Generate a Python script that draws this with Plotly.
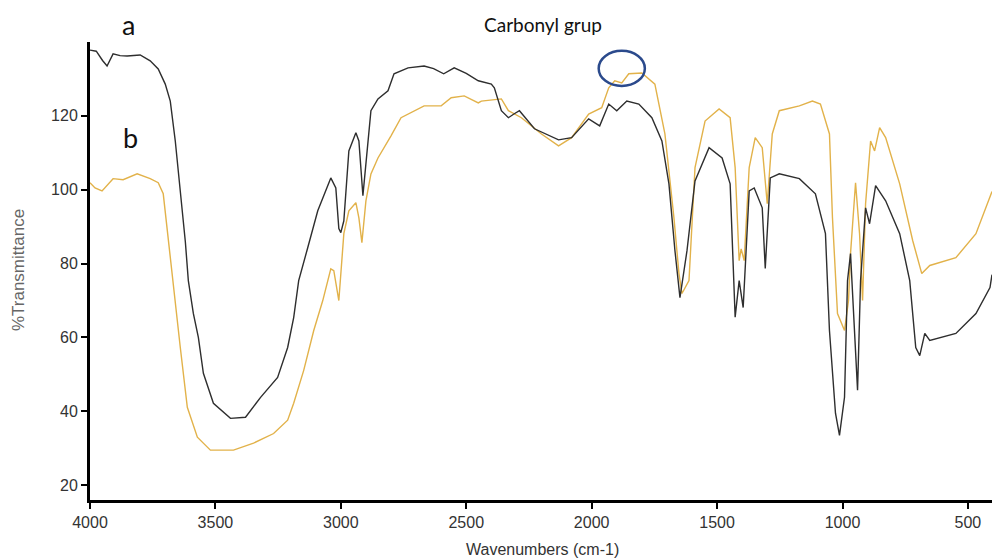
import plotly.graph_objects as go

# Curve a (black)
wavenumber_a = [4000, 3975, 3950, 3932, 3908, 3880, 3852, 3800, 3760, 3728, 3700, 3680, 3660, 3640, 3620,
                3608, 3588, 3568, 3548, 3508, 3440, 3380, 3320, 3252, 3212, 3188, 3168, 3132, 3092, 3040,
                3020, 3008, 3000, 2988, 2968, 2940, 2928, 2912, 2900, 2880, 2852, 2812, 2788, 2732, 2668,
                2630, 2590, 2548, 2500, 2452, 2400, 2388, 2360, 2332, 2310, 2288, 2228, 2132, 2080, 2012,
                1968, 1932, 1900, 1860, 1812, 1760, 1720, 1692, 1668, 1648, 1620, 1588, 1532, 1480, 1448,
                1428, 1412, 1396, 1372, 1352, 1320, 1308, 1288, 1252, 1172, 1108, 1068, 1052, 1028, 1012,
                992, 980, 968, 952, 940, 928, 908, 892, 868, 828, 772, 732, 708, 692, 672, 652, 548, 468,
                412, 404]
transmittance_a = [137.8, 137.5, 135.0, 133.5, 136.8, 136.3, 136.2, 136.5, 134.9, 132.7, 128.6, 124.0, 113.2, 100.5, 86.0,
                   75.4, 66.5, 60.0, 50.3, 42.2, 38.1, 38.4, 43.8, 49.2, 57.3, 65.4, 75.4, 84.3, 94.3, 103.2,
                   100.5, 89.5, 88.4, 91.6, 110.5, 115.4, 113.2, 98.4, 107.8, 121.4, 124.6, 126.8, 131.4, 133.0, 133.5,
                   132.8, 131.4, 133.0, 131.5, 129.5, 128.6, 127.6, 121.4, 119.5, 120.5, 121.4, 116.5, 113.5, 114.1, 119.2,
                   117.3, 123.2, 121.4, 124.0, 123.2, 119.5, 113.2, 101.6, 83.5, 70.8, 83.5, 102.4, 111.4, 108.6, 101.6,
                   65.5, 75.4, 68.1, 99.7, 100.5, 95.1, 78.7, 103.2, 104.3, 103.0, 98.9, 88.1, 61.9, 39.5, 33.5,
                   43.8, 75.4, 82.7, 60.0, 45.7, 75.4, 95.1, 90.8, 101.1, 97.0, 88.1, 75.4, 57.3, 55.1, 61.1, 59.2, 61.1, 66.5,
                   73.5, 77.0]

# Curve b (yellow)
wavenumber_b = [4000, 3980, 3952, 3930, 3908, 3868, 3812, 3760, 3728, 3708, 3688, 3672, 3660, 3640, 3612,
                3572, 3520, 3428, 3348, 3268, 3212, 3188, 3148, 3108, 3072, 3040, 3028, 3008, 2988, 2968,
                2940, 2928, 2916, 2900, 2880, 2852, 2800, 2760, 2668, 2600, 2560, 2508, 2452, 2440, 2360,
                2332, 2280, 2200, 2132, 2080, 2012, 1960, 1932, 1908, 1880, 1852, 1800, 1748, 1708, 1672,
                1652, 1640, 1612, 1588, 1548, 1492, 1448, 1428, 1412, 1404, 1392, 1372, 1348, 1320, 1300,
                1280, 1252, 1172, 1120, 1088, 1052, 1040, 1020, 992, 976, 968, 948, 932, 920, 908,
                888, 872, 852, 828, 772, 720, 684, 652, 548, 468, 404]
transmittance_b = [101.9, 100.5, 99.7, 101.5, 103.0, 102.7, 104.3, 103.0, 101.9, 98.9, 86.2, 76.2, 70.0, 57.3, 41.1,
                   33.0, 29.5, 29.5, 31.4, 34.0, 37.6, 42.2, 51.1, 61.9, 70.0, 78.6, 78.1, 70.0, 88.1, 94.3,
                   96.5, 92.4, 85.7, 97.0, 104.3, 108.6, 114.6, 119.5, 122.7, 122.7, 124.9, 125.4, 123.5, 124.0, 124.6,
                   121.4, 119.5, 115.1, 111.9, 114.1, 120.5, 122.2, 127.6, 129.5, 128.9, 131.4, 131.6, 128.6, 115.1, 92.4,
                   77.3, 71.9, 75.4, 106.0, 118.6, 121.9, 119.5, 106.0, 80.8, 84.0, 80.8, 106.0, 114.1, 111.4, 96.2,
                   115.1, 121.4, 122.7, 124.0, 123.2, 115.1, 92.4, 66.5, 61.9, 70.0, 82.7, 101.9, 88.1, 70.0, 96.2,
                   113.2, 110.5, 116.8, 114.1, 101.6, 86.2, 77.3, 79.5, 81.6, 88.1, 99.5]

x_ticks = [4000, 3500, 3000, 2500, 2000, 1500, 1000, 500]
y_ticks = [20, 40, 60, 80, 100, 120]

fig = go.Figure()
fig.add_trace(go.Scatter(x=wavenumber_b, y=transmittance_b, mode="lines",
                         line=dict(color="#e2b24a", width=1.4), showlegend=False))
fig.add_trace(go.Scatter(x=wavenumber_a, y=transmittance_a, mode="lines",
                         line=dict(color="#2e2e2e", width=1.4), showlegend=False))

tickfont = dict(family="Liberation Sans", size=16, color="#333")

# plot area: x 90..992 px, y 42..500 px
def px_to_paper(px, py):
    return (px - 90) / 902, (500 - py) / 458

ax, ay = px_to_paper(128, 24)
bx, by = px_to_paper(130, 137)
cx, cy = px_to_paper(543, 24)
tx, ty = px_to_paper(542, 549)

fig.update_layout(
    width=992, height=560,
    margin=dict(l=90, r=0, t=42, b=60),
    paper_bgcolor="white", plot_bgcolor="white",
    xaxis=dict(range=[4000, 404], tickvals=x_ticks, ticks="outside", ticklen=6, tickwidth=1.5,
               tickcolor="black", showline=True, linecolor="black", linewidth=3,
               showgrid=False, zeroline=False, tickfont=tickfont),
    yaxis=dict(range=[16, 140], tickvals=y_ticks, ticks="outside", ticklen=6, tickwidth=1.5,
               tickcolor="black", showline=True, linecolor="black", linewidth=3,
               showgrid=False, zeroline=False, tickfont=tickfont),
    shapes=[dict(type="circle", xref="x", yref="y", x0=1972, x1=1788, y0=128.1, y1=137.6,
                 line=dict(color="#2b4a8c", width=2.5))],
    annotations=[
        dict(text="a", x=ax, y=ay, xref="paper", yref="paper", showarrow=False,
             xanchor="center", yanchor="middle",
             font=dict(family="Lato, DejaVu Sans", size=27, color="#111")),
        dict(text="b", x=bx, y=by, xref="paper", yref="paper", showarrow=False,
             xanchor="center", yanchor="middle",
             font=dict(family="Lato, DejaVu Sans", size=27, color="#111")),
        dict(text="Carbonyl grup", x=cx, y=cy, xref="paper", yref="paper", showarrow=False,
             xanchor="center", yanchor="middle",
             font=dict(family="Lato, DejaVu Sans", size=19, color="#111")),
        dict(text="%Transmittance", x=0, xshift=-72, y=0.502, xref="paper", yref="paper",
             showarrow=False, textangle=-90, xanchor="center", yanchor="middle",
             font=dict(family="Liberation Sans", size=17, color="#666")),
        dict(text="Wavenumbers (cm-1)", x=tx, y=ty, xref="paper", yref="paper",
             showarrow=False, xanchor="center", yanchor="middle",
             font=dict(family="Liberation Sans", size=16, color="#333")),
    ],
)

fig.write_html("out.html", config={"displayModeBar": False},
               post_script="document.body.style.margin='0';document.body.style.overflow='hidden';")
